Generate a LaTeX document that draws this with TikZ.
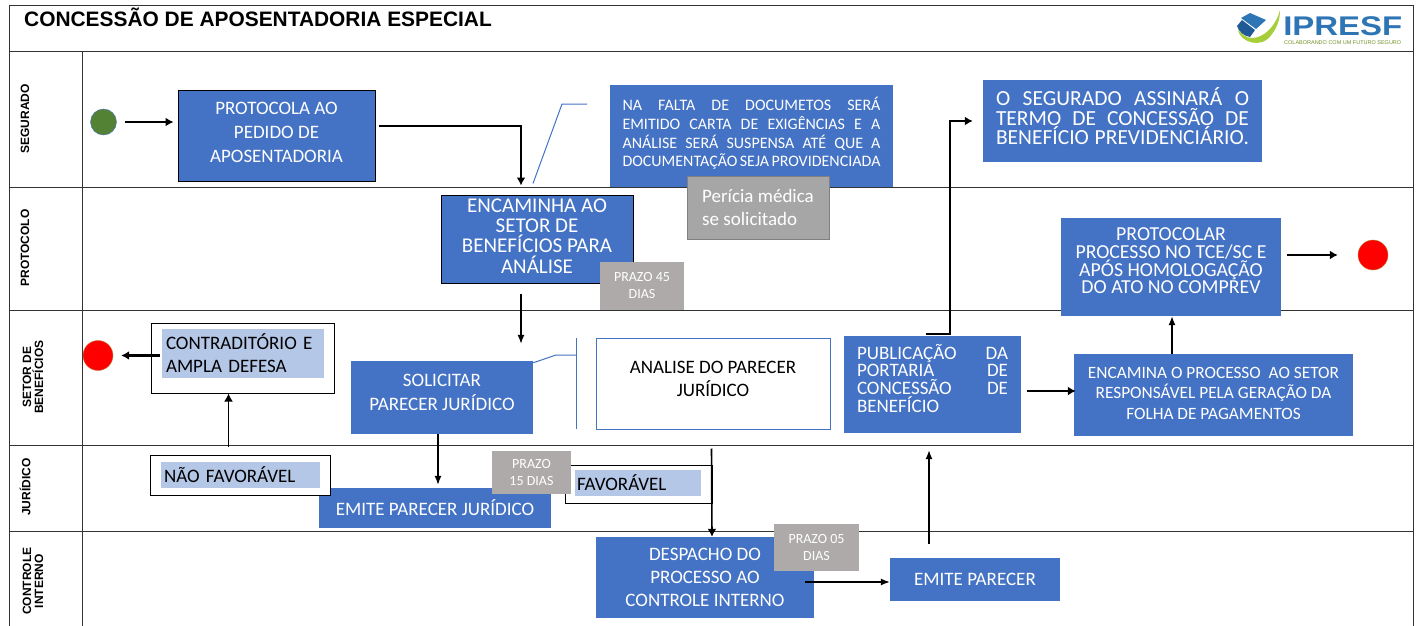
\documentclass[tikz,border=0pt]{standalone}
\usepackage{fontspec}
\setmainfont{Carlito}
\newfontfamily\lanefont{Liberation Sans}
\usetikzlibrary{arrows.meta}
\definecolor{boxblue}{HTML}{4472C4}
\definecolor{lightblue}{HTML}{B4C7E7}
\definecolor{prazogray}{HTML}{AEAAAA}
\definecolor{periciagray}{HTML}{A6A6A6}
\definecolor{startgreen}{HTML}{548235}
\definecolor{logoblue}{HTML}{2E75B6}
\definecolor{logodark}{HTML}{1F5A96}
\definecolor{logogreen}{HTML}{A6CE39}
\newcommand{\esticada}[2]{\makebox[#1][s]{#2}}
\tikzset{
  bluebox/.style={fill=boxblue, text=white, inner sep=0pt, align=center, font=\fontsize{19}{24}\selectfont},
  blackedge/.style={bluebox, draw=black, line width=1pt},
  prazobox/.style={fill=prazogray, text=white, inner sep=0pt, align=center, font=\fontsize{14}{17}\selectfont},
  whitebox/.style={draw=black, fill=white, line width=1pt, inner sep=0pt},
  softbox/.style={fill=lightblue, text=black, inner sep=0pt, align=left, font=\fontsize{19}{23}\selectfont},
  lanelabel/.style={rotate=90, align=center, inner sep=0pt, font=\lanefont\bfseries\fontsize{12}{12}\selectfont},
  flow/.style={draw=black, line width=2pt, -{Latex[length=8pt,width=9pt]}},
  thinflow/.style={draw=black, line width=1.3pt, -{Latex[length=9pt,width=7pt]}},
  callout/.style={draw=boxblue, line width=1pt}
}
\begin{document}
\begin{tikzpicture}[x=1pt,y=-1pt]
    \useasboundingbox (0,0) rectangle (1417,626);
    \fill[white] (0,0) rectangle (1417,626);
    %lanes
    \draw[line width=1pt, black!80] (9,626) -- (9,6) -- (1413,6) -- (1413,626);
    \foreach \y in {52,187,310,445,531}
      \draw[line width=1pt, black!80] (9,\y) -- (1413,\y);
    \draw[line width=1pt, black!80] (82,52) -- (82,626);
    \node[lanelabel] (segurado) at (25,119) {SEGURADO};
    \node[lanelabel] (protocolo) at (25,248) {PROTOCOLO};
    \node[lanelabel] (setor) at (33,377) {SETOR DE\\BENEFÍCIOS};
    \node[lanelabel] (juridico) at (25,487) {JURÍDICO};
    \node[lanelabel] (controle) at (33,581) {CONTROLE\\INTERNO};
    %title
    \node[anchor=west, inner sep=0pt, font=\lanefont\bfseries\fontsize{20.9}{22}\selectfont] (titulo) at (24,17) {CONCESSÃO DE APOSENTADORIA ESPECIAL};
    %logo
    \fill[logogreen] (1238,30) .. controls (1240,42) and (1262,50) .. (1272,34) .. controls (1278,26) and (1280,18) .. (1280,10) .. controls (1276,26) and (1264,38) .. (1252,38) .. controls (1246,38) and (1242,34) .. (1238,30);
    \fill[logoblue] (1241,18) -- (1250,13) -- (1266,20) -- (1256,29) -- cycle;
    \fill[logodark] (1237,26) -- (1242,20) -- (1255,30) -- (1250,37) .. controls (1244,36) and (1239,32) .. (1237,26);
    \node[anchor=west, inner sep=0pt, text=logoblue, xscale=1.22, font=\lanefont\bfseries\fontsize{27}{28}\selectfont] (ipresf) at (1283,26.5) {IPRESF};
    \node[anchor=west, inner sep=0pt, text=logogreen!70!black, font=\lanefont\fontsize{5.5}{6}\selectfont] (lema) at (1284,42.5) {COLABORANDO COM UM FUTURO SEGURO};
    %segurado
    \node[circle, fill=startgreen, draw=boxblue, minimum size=26pt, inner sep=0pt] (inicio) at (103.5,122) {};
    \node[blackedge, minimum width=197pt, minimum height=90pt, text depth=8pt] (protocola) at (276.5,136) {PROTOCOLA AO\\PEDIDO DE\\APOSENTADORIA};
    \node[bluebox, minimum width=283pt, minimum height=102pt, align=left, text depth=8pt, font=\fontsize{16}{18.7}\selectfont] (falta) at (751.5,136) {\esticada{258pt}{NA FALTA DE DOCUMETOS SERÁ}\\\esticada{258pt}{EMITIDO CARTA DE EXIGÊNCIAS E A}\\\esticada{258pt}{ANÁLISE SERÁ SUSPENSA ATÉ QUE A}\\\esticada{258pt}{DOCUMENTAÇÃO SEJA PROVIDENCIADA}};
    \node[bluebox, minimum width=279pt, minimum height=81pt, align=left, text depth=9pt, font=\fontsize{21.5}{19.5}\selectfont] (termo) at (1122.5,121) {\esticada{253pt}{O SEGURADO ASSINARÁ O}\\\esticada{253pt}{TERMO DE CONCESSÃO DE}\\\esticada{253pt}{BENEFÍCIO PREVIDENCIÁRIO.}};
    %protocolo
    \node[blackedge, minimum width=192pt, minimum height=88pt, text depth=6pt, font=\fontsize{21}{20.3}\selectfont] (encaminha) at (537,239) {ENCAMINHA AO\\SETOR DE\\BENEFÍCIOS PARA\\ANÁLISE};
    \node[fill=periciagray, draw=black!50, line width=1pt, text=white, minimum width=142pt, minimum height=63pt, inner sep=0pt, align=left, font=\fontsize{19}{23}\selectfont] (pericia) at (758,207.5) {Perícia médica\\se solicitado};
    \node[prazobox, minimum width=84pt, minimum height=48pt] (prazoA) at (642,286) {PRAZO 45\\DIAS};
    \node[bluebox, minimum width=220pt, minimum height=98pt, text depth=12pt, font=\fontsize{19.8}{17.7}\selectfont] (protocolar) at (1171,267) {PROTOCOLAR\\PROCESSO NO TCE/SC E\\APÓS HOMOLOGAÇÃO\\DO ATO NO COMPREV};
    \node[circle, fill=red, draw=brown, minimum size=30pt, inner sep=0pt] (fimA) at (1373,255) {};
    %setor de beneficios
    \node[circle, fill=red, draw=brown, minimum size=30pt, inner sep=0pt] (fimB) at (98,355.5) {};
    \node[whitebox, minimum width=183pt, minimum height=70pt] (defesa) at (242.5,358) {};
    \node[softbox, minimum width=162pt, minimum height=49pt, text width=154pt] (defesatxt) at (243,353.5) {CONTRADITÓRIO E\\AMPLA DEFESA};
    \node[bluebox, minimum width=182pt, minimum height=73pt, text depth=10pt] (solicitar) at (442,397.5) {SOLICITAR\\PARECER JURÍDICO};
    \node[draw=boxblue, line width=1pt, fill=white, minimum width=234pt, minimum height=91pt, inner sep=0pt, align=center, text depth=10pt, font=\fontsize{19}{23}\selectfont] (analise) at (713,383.5) {ANALISE DO PARECER\\JURÍDICO};
    \node[bluebox, minimum width=177pt, minimum height=97pt, align=left, text depth=13pt, font=\fontsize{19}{17.7}\selectfont] (publicacao) at (932.5,384.5) {\esticada{151pt}{PUBLICAÇÃO DA}\\\esticada{151pt}{PORTARIA DE}\\\esticada{151pt}{CONCESSÃO DE}\\\esticada{151pt}{BENEFÍCIO\hfill}};
    \node[bluebox, minimum width=279pt, minimum height=82pt, text depth=4pt, font=\fontsize{17.3}{20.5}\selectfont] (encamina) at (1213.5,395) {ENCAMINA O PROCESSO\ \ AO SETOR\\RESPONSÁVEL PELA GERAÇÃO DA\\FOLHA DE PAGAMENTOS};
    %juridico
    \node[bluebox, minimum width=232pt, minimum height=40pt] (emiteJur) at (435,508) {EMITE PARECER JURÍDICO};
    \node[whitebox, minimum width=180pt, minimum height=40pt] (naofav) at (240,475) {};
    \node[softbox, minimum width=159pt, minimum height=26pt, text width=153pt] (naofavtxt) at (240.5,475) {NÃO FAVORÁVEL};
    \node[whitebox, minimum width=147pt, minimum height=38pt] (fav) at (638.5,484) {};
    \node[softbox, minimum width=126pt, minimum height=26pt, text width=122pt] (favtxt) at (638,483) {FAVORÁVEL};
    \node[prazobox, minimum width=79pt, minimum height=43pt] (prazoB) at (531.5,472.5) {PRAZO\\15 DIAS};
    %controle interno
    \node[bluebox, minimum width=218pt, minimum height=81pt, font=\fontsize{19}{23}\selectfont] (despacho) at (705,577.5) {DESPACHO DO\\PROCESSO AO\\CONTROLE INTERNO};
    \node[bluebox, minimum width=170pt, minimum height=43pt] (emite) at (975,579.5) {EMITE PARECER};
    \node[prazobox, minimum width=85pt, minimum height=47pt] (prazoC) at (816.5,547.5) {PRAZO 05\\DIAS};
    %connectors
    \draw[flow, shorten <=8pt, shorten >=4pt] (inicio.east) -- (inicio.east -| protocola.west);
    \draw[flow] ([yshift=10pt,xshift=3pt]protocola.east) -| ([xshift=-16pt,yshift=9pt]encaminha.north);
    \draw[thinflow] ([xshift=-16pt,yshift=-10pt]encaminha.south) -- ([xshift=79pt,yshift=17pt]solicitar.north);
    \draw[thinflow] ([xshift=-4pt]solicitar.south) -- ([xshift=3pt,yshift=3pt]emiteJur.north);
    \draw[flow, line width=1.6pt] ([xshift=-14pt,yshift=8pt]defesa.south |- naofav.north) -- ([xshift=-14pt]defesa.south);
    \draw[flow, line width=2.5pt, shorten >=8pt] ([xshift=9pt]defesa.west |- fimB.east) -- (fimB.east);
    \draw[flow, line width=1.6pt] ([xshift=73pt,yshift=16pt]fav.north) -- ([xshift=7pt]despacho.north);
    \draw[thinflow] ([xshift=-9pt,yshift=-2.5pt]despacho.east |- emite.west) -- ([yshift=-2.5pt]emite.west);
    \draw[thinflow] ([xshift=-46pt,yshift=14pt]emite.north) -- ([xshift=-3.5pt,yshift=-17pt]publicacao.south);
    \draw[flow] ([xshift=-7pt,yshift=2pt]publicacao.north) -- ++(24pt,0pt) |- ([xshift=-10pt]termo.west);
    \draw[flow, line width=2.5pt] ([xshift=6pt,yshift=-6.5pt]publicacao.east) -- ([xshift=2pt,yshift=4pt]encamina.west);
    \draw[thinflow] ([xshift=-41.5pt]encamina.north) -- ([xshift=1pt]protocolar.south);
    \draw[flow, shorten <=6pt, shorten >=20pt] (protocolar.east |- fimA.west) -- (fimA.west);
    %callouts
    \coordinate (quebraA) at (562,104);
    \coordinate (fimCalloutA) at (587,104);
    \draw[callout] ([xshift=-4pt,yshift=11pt]encaminha.north) -- (quebraA) -- (fimCalloutA);
    \coordinate (quebraB) at (556,355);
    \coordinate (topoB) at (576.5,338);
    \coordinate (baseB) at (576.5,429);
    \draw[callout] ([yshift=-2pt]solicitar.north east) -- (quebraB) -- (576.5,355);
    \draw[callout] (topoB) -- (baseB);
  \end{tikzpicture}
\end{document}
